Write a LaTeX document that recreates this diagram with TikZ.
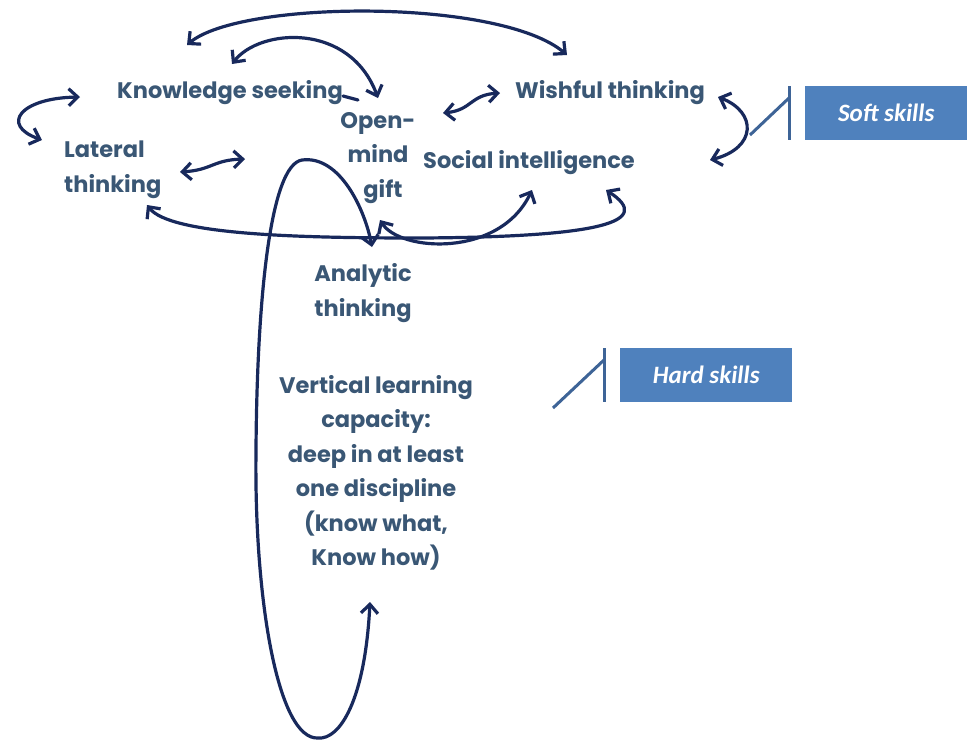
\documentclass[tikz,border=0pt]{standalone}
\usepackage{fontspec}
\setmainfont{Poppins}
\newfontfamily\calib{Carlito}
\usetikzlibrary{arrows.meta}
\definecolor{txt}{HTML}{3A5775}
\definecolor{arr}{HTML}{18295C}
\definecolor{boxc}{HTML}{4F81BD}
\definecolor{callc}{HTML}{3E6497}
\tikzset{
  lbl/.style={text=txt,font=\bfseries\fontsize{22.5}{34.5}\selectfont,inner sep=0pt,align=center},
  conn/.style={draw=arr,line width=3.2pt,line cap=round,{Straight Barb[length=9pt,width=17pt]}-{Straight Barb[length=9pt,width=17pt]}},
  conn1/.style={draw=arr,line width=3.2pt,line cap=round},
  skillbox/.style={fill=boxc,draw=none,text=white,font=\calib\bfseries\itshape\fontsize{25}{28}\selectfont,minimum width=#1,minimum height=54pt,inner sep=0pt},
  callout/.style={draw=callc,line width=3pt}
}
\begin{document}
\begin{tikzpicture}[x=1pt,y=-1pt]
\useasboundingbox (0,0) rectangle (967,740);
\fill[white] (0,0) rectangle (967,740);

% text nodes
\node[lbl] (ks) at (230,93) {Knowledge seeking};
\node[lbl] (wt) at (610,93) {Wishful thinking};
\node[lbl] (om) at (378,158) {Open-\\mind\\\hspace*{10pt}gift};
\node[lbl,align=left,anchor=west] (lt) at (64,170) {Lateral\\thinking};
\node[lbl] (si) at (529,163) {Social intelligence};
\node[lbl] (at) at (363,293) {Analytic\\thinking};
\node[lbl] (vl) at (376,473) {Vertical learning\\capacity:\\deep in at least\\one discipline\\(know what,\\Know how)};

% skill boxes
\node[skillbox=162pt,anchor=north west] (soft) at (805,86) {Soft skills};
\node[skillbox=172pt,anchor=north west] (hard) at (620,348) {Hard skills};
\coordinate (softv1) at (789,86);
\coordinate (softv2) at (789,140);
\coordinate (softd) at (750,135);
\coordinate (softj) at (789,98);
\draw[callout] (softv1) -- (softv2);
\draw[callout] (softj) -- (softd);
\coordinate (hardv1) at (604,348);
\coordinate (hardv2) at (604,402);
\coordinate (hardd) at (553,408);
\coordinate (hardj) at (604,360);
\draw[callout] (hardv1) -- (hardv2);
\draw[callout] (hardj) -- (hardd);

% connector end points
\coordinate (aKsTop) at (187,45);
\coordinate (aWtTop) at (567,55);
\coordinate (bKs) at (232,64);
\coordinate (bOm) at (378,98);
\coordinate (cKs) at (80,97);
\coordinate (cLt) at (42,140);
\coordinate (dLt) at (180,172);
\coordinate (dOm) at (245,159);
\coordinate (eOm) at (443,113);
\coordinate (eWt) at (500,93);
\coordinate (fWt) at (718,97);
\coordinate (fSi) at (710,160);
\coordinate (gLt) at (147,205);
\coordinate (gMid) at (420,238);
\coordinate (gSi) at (606,190);
\coordinate (hOm) at (380,220);
\coordinate (hSi) at (532,190);
\coordinate (iVl) at (370,602);
\coordinate (iB) at (318,738);
\coordinate (iL) at (256,450);
\coordinate (iT) at (302,160);
\coordinate (iAt) at (372,247);
\coordinate (jA) at (343,96);
\coordinate (jB) at (358,100);

% connectors
\draw[conn] (aKsTop) .. controls (240,0) and (500,-2) .. (aWtTop);
\draw[conn] (bKs) .. controls (260,28) and (350,22) .. (bOm);
\draw[conn] (cKs) .. controls (20,98) and (0,125) .. (cLt);
\draw[conn] (dLt) .. controls (212,170) and (213,160) .. (dOm);
\draw[conn] (eOm) .. controls (472,110) and (470,95) .. (eWt);
\draw[conn] (fWt) .. controls (757,112) and (757,148) .. (fSi);
\draw[conn] (gLt) .. controls (170,235) and (300,238) .. (gMid) .. controls (600,237) and (655,222) .. (gSi);
\draw[conn] (hOm) .. controls (400,252) and (500,258) .. (hSi);
\draw[conn] (iVl) .. controls (365,700) and (340,740) .. (iB) .. controls (278,740) and (254,600) .. (iL) .. controls (257,300) and (270,165) .. (iT) .. controls (340,155) and (365,210) .. (iAt);
\draw[conn1] (jA) -- (jB);
\end{tikzpicture}
\end{document}
